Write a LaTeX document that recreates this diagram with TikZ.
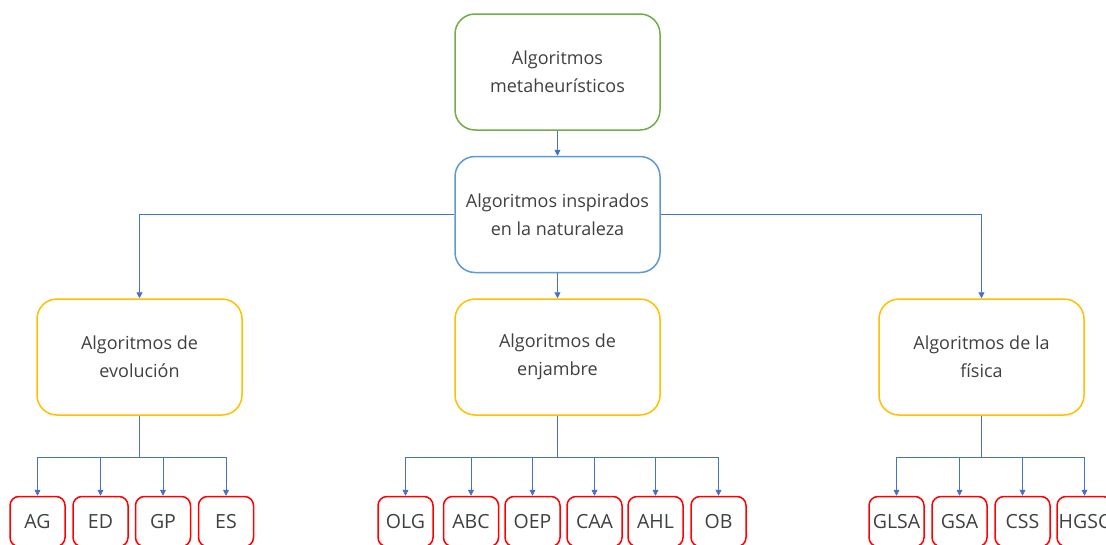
\documentclass[tikz,border=0pt]{standalone}
\usepackage{fontspec}
\setmainfont{Open Sans}
\usetikzlibrary{arrows.meta}
\definecolor{cgreen}{HTML}{70AD47}
\definecolor{cblue}{HTML}{5B9BD5}
\definecolor{cyellow}{HTML}{FFC000}
\definecolor{cred}{HTML}{FF0000}
\definecolor{cline}{HTML}{4472C4}
\definecolor{ctext}{HTML}{404040}
\tikzset{
  bigbox/.style={draw, line width=1.5pt, rounded corners=20pt, minimum width=205pt, minimum height=116pt, align=center, text=ctext, font=\fontsize{18}{28}\selectfont, inner sep=2pt},
  smallbox/.style={draw=cred, line width=1.5pt, rounded corners=9pt, minimum width=55pt, minimum height=50pt, text=ctext, font=\fontsize{19.5}{22}\selectfont, inner sep=0pt},
  conn/.style={draw=cline, line width=0.8pt},
  arr/.style={conn, -{Triangle[length=6pt,width=6pt]}}
}
\begin{document}
\begin{tikzpicture}[x=1pt,y=-1pt]
\useasboundingbox (0,0) rectangle (1106,544);
\clip (0,0) rectangle (1106,544);
\fill[white] (0,0) rectangle (1106,544);
% big boxes
\node[bigbox, draw=cgreen] (meta) at (557.5,72) {Algoritmos\\metaheurísticos};
\node[bigbox, draw=cblue] (nat) at (557.5,214.5) {Algoritmos inspirados\\en la naturaleza};
\node[bigbox, draw=cyellow] (evo) at (139.5,357) {Algoritmos de\\evolución};
\node[bigbox, draw=cyellow] (enj) at (557.5,357) {Algoritmos de\\enjambre};
\node[bigbox, draw=cyellow] (fis) at (981.5,357) {Algoritmos de la\\física};
% small boxes
\node[smallbox] (AG) at (37.5,521.5) {AG};
\node[smallbox] (ED) at (100.5,521.5) {ED};
\node[smallbox] (GP) at (163,521.5) {GP};
\node[smallbox] (ES) at (226,521.5) {ES};
\node[smallbox] (OLG) at (405.5,521.5) {OLG};
\node[smallbox] (ABC) at (471,521.5) {ABC};
\node[smallbox] (OEP) at (532.5,521.5) {OEP};
\node[smallbox] (CAA) at (594.5,521.5) {CAA};
\node[smallbox] (AHL) at (655.5,521.5) {AHL};
\node[smallbox] (OB) at (718.5,521.5) {OB};
\node[smallbox] (GLSA) at (896.5,521.5) {GLSA};
\node[smallbox] (GSA) at (959.5,521.5) {GSA};
\node[smallbox] (CSS) at (1022.5,521.5) {CSS};
\node[smallbox] (HGSC) at (1084.5,521.5) {HGSC};
% connectors
\draw[arr] (meta) -- (nat);
\draw[arr] (nat) -- (enj);
\draw[arr] (nat.west) -| (evo.north);
\draw[arr] (nat.east) -| (fis.north);
\coordinate (evj) at (139.5,457);
\coordinate (enjj) at (557.5,457);
\coordinate (fisj) at (981.5,457);
\draw[conn] (evo) -- (evj);
\draw[conn] (enj) -- (enjj);
\draw[conn] (fis) -- (fisj);
\foreach \n in {AG,ED,GP,ES} {\draw[arr] (evj) -| (\n.north);}
\foreach \n in {OLG,ABC,OEP,CAA,AHL,OB} {\draw[arr] (enjj) -| (\n.north);}
\foreach \n in {GLSA,GSA,CSS,HGSC} {\draw[arr] (fisj) -| (\n.north);}
\end{tikzpicture}
\end{document}
